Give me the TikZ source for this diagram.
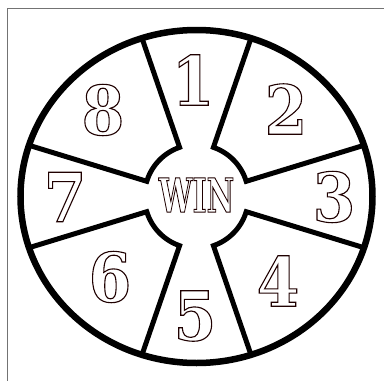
\documentclass[tikz,border=0pt]{standalone}
\usepackage{fontspec}
\usepackage{graphicx}
\newfontfamily\heavyfont{DejaVu Serif Condensed Bold}
\newcommand\outlinetext[1]{\special{pdf:literal direct 1 Tr 1.1 w 0.12 0 0 RG}#1\special{pdf:literal direct 0 Tr}}
\newcommand\wnum[1]{\outlinetext{#1}}
\begin{document}
\begin{tikzpicture}[x=1pt,y=-1pt,
  framel/.style={draw=black!55,line width=1.3pt},
  ringl/.style={draw=black,line width=6.5pt},
  spokel/.style={draw=black,line width=5pt,line join=miter},
  numl/.style={inner sep=0pt,font=\heavyfont\fontsize{68}{68}\selectfont},
  winl/.style={inner sep=0pt,font=\heavyfont\fontsize{47}{47}\selectfont}]
\useasboundingbox (0,0) rectangle (384,381);
\fill[white] (0,0) rectangle (384,381);
% frame
\draw[framel] (7.5,381) -- (7.5,8.5) -- (384,8.5);
% wheel
\begin{scope}[shift={(196.5,196.5)},yscale=-1]
  \begin{scope}
    \clip (0,0) ellipse [x radius=176pt, y radius=166.5pt];
    \draw[spokel] (17:220pt) -- (17:52pt) arc[start angle=17,end angle=71,radius=52pt] -- (71:220pt);
    \draw[spokel] (109:220pt) -- (109:52pt) arc[start angle=109,end angle=163,radius=52pt] -- (163:220pt);
    \draw[spokel] (197:220pt) -- (197:52pt) arc[start angle=197,end angle=251,radius=52pt] -- (251:220pt);
    \draw[spokel] (289:220pt) -- (289:52pt) arc[start angle=289,end angle=343,radius=52pt] -- (343:220pt);
  \end{scope}
  \draw[ringl] (0,0) ellipse [x radius=176pt, y radius=166.5pt];
\end{scope}
% labels
\node[numl] (n1) at (193,80) {\wnum{1}};
\node[numl] (n2) at (286,109) {\wnum{2}};
\node[numl] (n3) at (334,197) {\wnum{3}};
\node[numl] (n4) at (278,281) {\wnum{4}};
\node[numl] (n5) at (195,316) {\wnum{5}};
\node[numl] (n6) at (110,277) {\wnum{6}};
\node[numl] (n7) at (65,197) {\wnum{7}};
\node[numl] (n8) at (103,110) {\wnum{8}};
\node[winl] (win) at (196.5,195) {\scalebox{0.71}[1]{\outlinetext{WIN}}};
\end{tikzpicture}
\end{document}
